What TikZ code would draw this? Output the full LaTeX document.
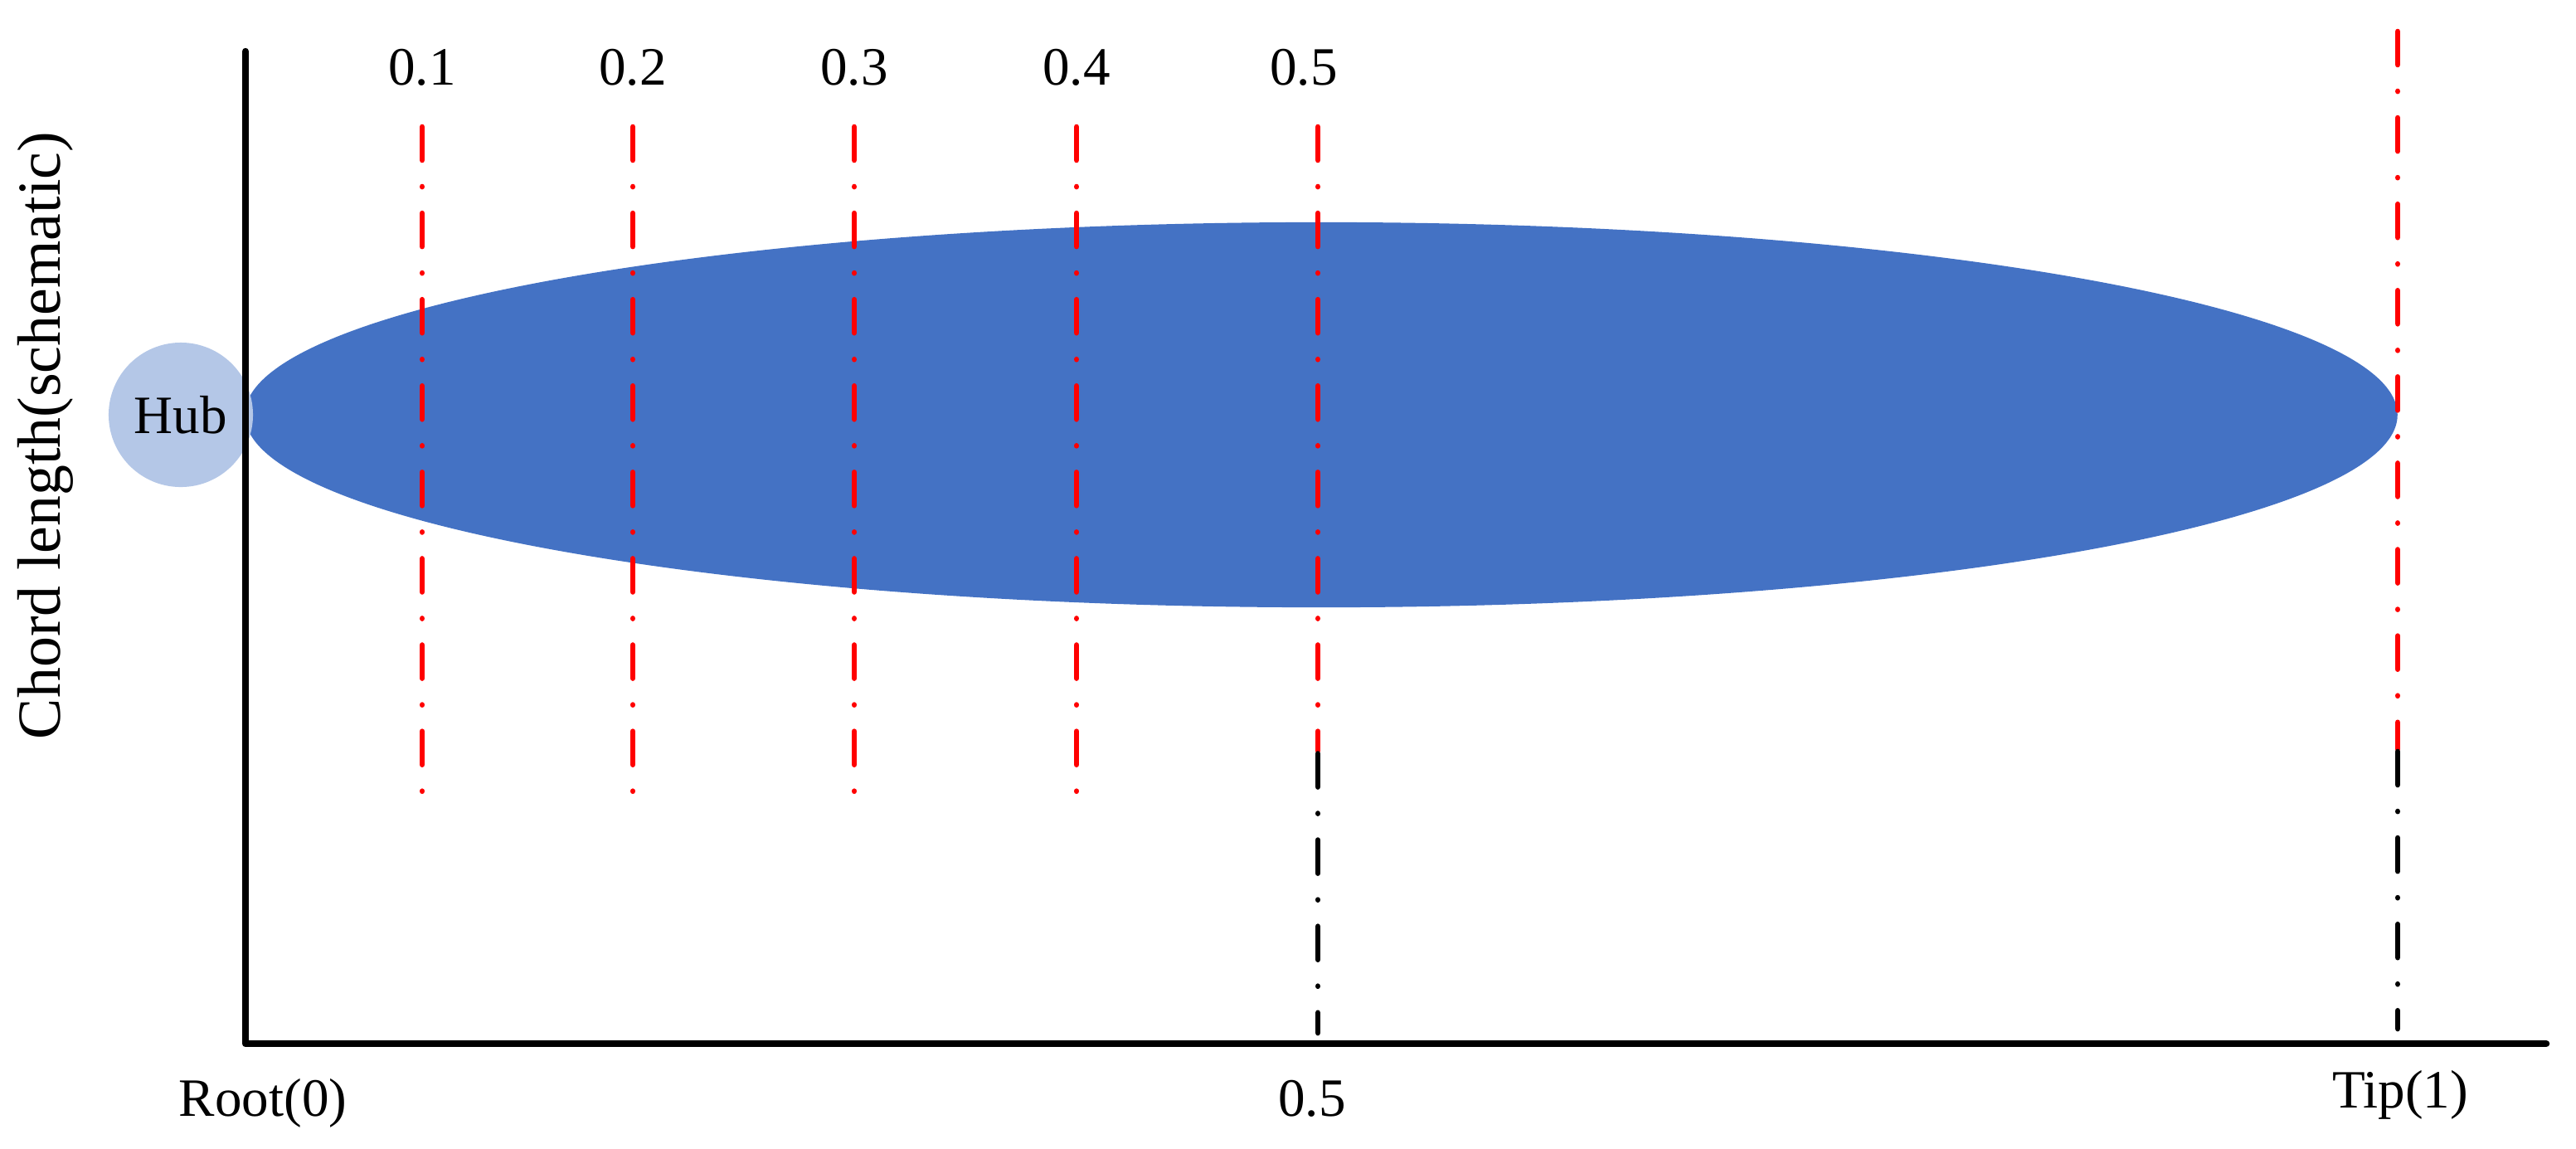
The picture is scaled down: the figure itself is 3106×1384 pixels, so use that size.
\documentclass[tikz,border=0pt]{standalone}
\usepackage{fontspec}
\setmainfont{Liberation Serif}
\definecolor{bladeblue}{HTML}{4472C4}
\definecolor{hubblue}{HTML}{B4C7E7}
\definecolor{cutred}{HTML}{FF0000}
\begin{document}
\begin{tikzpicture}[x=0.01cm,y=-0.01cm,
  lbl/.style={font=\fontsize{18.5}{22}\selectfont, inner sep=0pt, anchor=base},
  cutline/.style={line width=1.9pt, line cap=round,
    dash pattern=on 11.37pt off 9.11pt on 0.01pt off 9.11pt},
  redcut/.style={cutline, draw=cutred},
  blackcut/.style={cutline, draw=black},
  axisline/.style={line width=2.4pt, line cap=round, line join=round},
  hubshape/.style={circle, fill=hubblue, minimum size=1.74cm, inner sep=0pt,
    font=\fontsize{18.5}{22}\selectfont}]
\useasboundingbox (0,0) rectangle (3106,1384);
% blade
\fill[bladeblue] (1593,500) ellipse [x radius=12.97cm, y radius=2.32cm];
% hub
\node[hubshape] (hub) at (218,500) {Hub};
% axes
\coordinate (ytop) at (296,62);
\coordinate (origin) at (296,1258);
\coordinate (xend) at (3070,1258);
\draw[axisline] (ytop) -- (origin) -- (xend);
% section lines
\foreach \n/\xx in {1/509,2/763,3/1030,4/1298}{
  \coordinate (s\n top) at (\xx,153);
  \coordinate (s\n bot) at (\xx,958);
  \draw[redcut] (s\n top) -- (s\n bot);
}
\coordinate (s5top) at (1589,153);
\coordinate (s5mid) at (1589,905);
\coordinate (s5midb) at (1589,908.5);
\coordinate (s5bot) at (1589,1245);
\draw[redcut] (s5top) -- (s5mid);
\draw[blackcut] (s5midb) -- (s5bot);
\coordinate (tiptop) at (2891,38);
\coordinate (tipmid) at (2891,903);
\coordinate (tipmidb) at (2891,906);
\coordinate (tipbot) at (2891,1240);
\draw[redcut] (tiptop) -- (tipmid);
\draw[blackcut] (tipmidb) -- (tipbot);
% top labels
\node[lbl] (l1) at (509,102) {0.1};
\node[lbl] (l2) at (763,102) {0.2};
\node[lbl] (l3) at (1030,102) {0.3};
\node[lbl] (l4) at (1298,102) {0.4};
\node[lbl] (l5) at (1572,102) {0.5};
% bottom labels
\node[lbl] (root) at (317,1345) {Root(0)};
\node[lbl] (half) at (1582,1345) {0.5};
\node[lbl] (tip) at (2894,1335) {Tip(1)};
% y label
\node[lbl, anchor=center, rotate=90, font=\fontsize{21}{25}\selectfont] (ylab) at (55,525) {Chord length(schematic)};
\end{tikzpicture}
\end{document}
